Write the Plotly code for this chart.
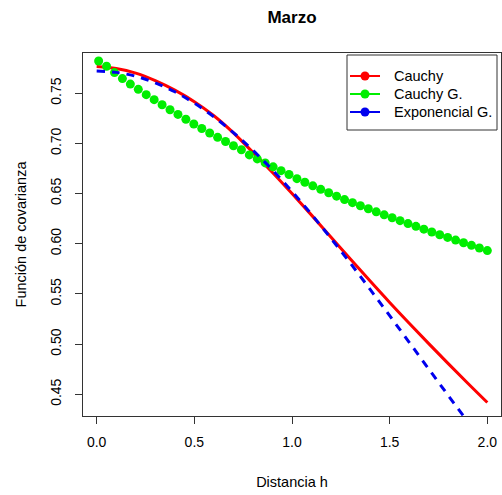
import plotly.graph_objects as go

# ---- data ----
x_line = [0.0, 0.1, 0.2, 0.3, 0.4, 0.5, 0.6, 0.7, 0.8, 0.9, 1.0,
          1.1, 1.2, 1.3, 1.4, 1.5, 1.6, 1.7, 1.8, 1.9, 2.0]
cauchy = [0.7765, 0.7745, 0.7700, 0.7625, 0.7530, 0.7415, 0.7275, 0.7105,
          0.6910, 0.6710, 0.6500, 0.6285, 0.6065, 0.5845, 0.5628, 0.5415,
          0.5208, 0.5005, 0.4806, 0.4610, 0.4418]
expo_g = [0.7720, 0.7707, 0.7668, 0.7603, 0.7514, 0.7400, 0.7264, 0.7107,
          0.6930, 0.6735, 0.6520, 0.6292, 0.6052, 0.5803, 0.5545, 0.5283,
          0.5018, 0.4752, 0.4488, 0.4228, 0.3975]

x_pts = [0.0100, 0.0506, 0.0912, 0.1318, 0.1724, 0.2131, 0.2537, 0.2943,
         0.3349, 0.3755, 0.4161, 0.4567, 0.4973, 0.5380, 0.5786, 0.6192,
         0.6598, 0.7004, 0.7410, 0.7816, 0.8222, 0.8629, 0.9035, 0.9441,
         0.9847, 1.0253, 1.0659, 1.1065, 1.1471, 1.1878, 1.2284, 1.2690,
         1.3096, 1.3502, 1.3908, 1.4314, 1.4720, 1.5127, 1.5533, 1.5939,
         1.6345, 1.6751, 1.7157, 1.7563, 1.7969, 1.8376, 1.8782, 1.9188,
         1.9594, 2.0000]
cauchy_g = [0.7820, 0.7768, 0.7705, 0.7645, 0.7590, 0.7538, 0.7485, 0.7435,
            0.7385, 0.7335, 0.7288, 0.7240, 0.7193, 0.7148, 0.7103, 0.7060,
            0.7018, 0.6976, 0.6936, 0.6885, 0.6845, 0.6805, 0.6766, 0.6728,
            0.6690, 0.6648, 0.6612, 0.6577, 0.6542, 0.6508, 0.6474, 0.6440,
            0.6409, 0.6378, 0.6348, 0.6318, 0.6288, 0.6259, 0.6230, 0.6201,
            0.6173, 0.6145, 0.6117, 0.6090, 0.6063, 0.6036, 0.6010, 0.5984,
            0.5958, 0.5932]

series_names = ["Cauchy", "Cauchy G.", "Exponencial G."]
series_colors = ["#ff0000", "#00ee00", "#0000ee"]
x_ticks = [0.0, 0.5, 1.0, 1.5, 2.0]
y_ticks = [0.45, 0.50, 0.55, 0.60, 0.65, 0.70, 0.75]

FONT = "Liberation Sans, Arial, Helvetica, sans-serif"
W, H = 502, 495
ML, MR, MT, MB = 83, 1, 53, 79
PW, PH = W - ML - MR, H - MT - MB


def px(X):  # pixel -> paper x
    return (X - ML) / PW


def py(Y):  # pixel -> paper y
    return (H - MB - Y) / PH


fig = go.Figure()
fig.add_trace(go.Scatter(x=x_line, y=cauchy, mode="lines",
                         line=dict(color=series_colors[0], width=3, shape="spline"),
                         showlegend=False))
fig.add_trace(go.Scatter(x=x_pts, y=cauchy_g, mode="markers",
                         marker=dict(color=series_colors[1], size=9), showlegend=False))
fig.add_trace(go.Scatter(x=x_line, y=expo_g, mode="lines",
                         line=dict(color=series_colors[2], width=3, dash="8px,7px",
                                   shape="spline"),
                         showlegend=False))

# ---- R-style legend box drawn with shapes + text ----
shapes = [dict(type="rect", xref="paper", yref="paper",
               x0=px(347), x1=px(497), y0=py(130), y1=py(55),
               line=dict(color="#333333", width=1), fillcolor="white", layer="above")]
annotations = []
row_y = [76, 94, 112]
for name, col, Y in zip(series_names, series_colors, row_y):
    shapes.append(dict(type="line", xref="paper", yref="paper",
                       x0=px(350), x1=px(380), y0=py(Y), y1=py(Y),
                       line=dict(color=col, width=2), layer="above"))
    shapes.append(dict(type="circle", xref="paper", yref="paper",
                       xsizemode="pixel", ysizemode="pixel",
                       xanchor=px(365), yanchor=py(Y),
                       x0=-4.5, x1=4.5, y0=-4.5, y1=4.5,
                       line=dict(width=0), fillcolor=col, layer="above"))
    annotations.append(dict(text=name, xref="paper", yref="paper",
                            x=px(392), y=py(Y), xanchor="left", yanchor="middle",
                            showarrow=False, font=dict(size=14.5, family=FONT, color="black")))

fig.update_layout(
    width=W, height=H,
    margin=dict(l=ML, r=MR, t=MT, b=MB),
    paper_bgcolor="white", plot_bgcolor="white",
    font=dict(family=FONT, size=14, color="black"),
    showlegend=False,
    title=dict(text="<b>Marzo</b>", x=0.5, xanchor="center", xref="paper",
               y=1 - 17.5 / H, yanchor="middle", font=dict(size=17, family=FONT)),
    shapes=shapes,
    annotations=annotations,
    xaxis=dict(range=[-0.07, 2.07], tickvals=x_ticks, tickformat=".1f",
               showgrid=False, zeroline=False, showline=True, mirror=True,
               linecolor="#333333", linewidth=1, ticks="outside", ticklen=7,
               tickcolor="#333333", ticklabelstandoff=6,
               title=dict(text="Distancia h", standoff=28, font=dict(size=14.5))),
    yaxis=dict(range=[0.4284, 0.790], tickvals=y_ticks, tickformat=".2f",
               tickangle=-90,
               showgrid=False, zeroline=False, showline=True, mirror=True,
               linecolor="#333333", linewidth=1, ticks="outside", ticklen=7,
               tickcolor="#333333", ticklabelstandoff=8,
               title=dict(text="Función de covarianza", standoff=18, font=dict(size=14.5))),
)

fig.write_html("out.html", config={"displayModeBar": False},
               post_script="document.body.style.margin='0';document.body.style.overflow='hidden';")
